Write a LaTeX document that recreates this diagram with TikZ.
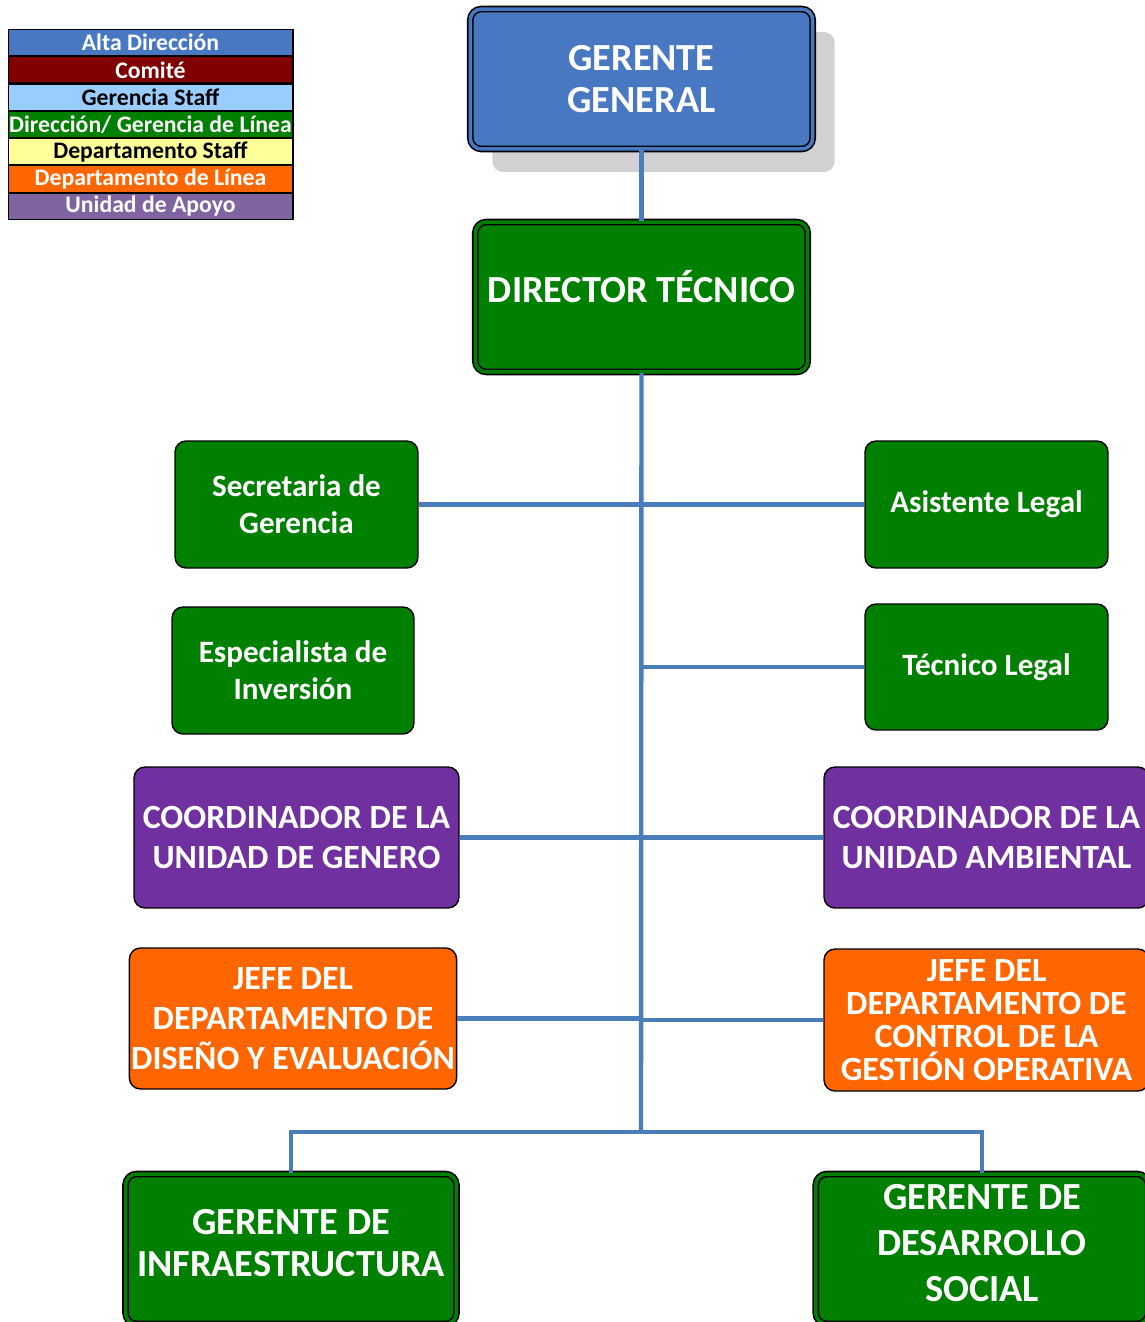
\documentclass[tikz,border=0pt]{standalone}
\usepackage{fontspec}
\setmainfont{Carlito}
\usetikzlibrary{positioning,shadows}

\definecolor{altaDir}{RGB}{71,120,193}
\definecolor{comite}{RGB}{128,0,0}
\definecolor{gerStaff}{RGB}{153,204,255}
\definecolor{verdeLinea}{RGB}{0,128,0}
\definecolor{depStaff}{RGB}{255,255,153}
\definecolor{naranja}{RGB}{255,102,0}
\definecolor{apoyo}{RGB}{128,100,162}
\definecolor{morado}{RGB}{112,48,160}
\definecolor{conector}{RGB}{74,126,187}

\begin{document}
\begin{tikzpicture}[
    x=0.02cm, y=-0.02cm,
    conn/.style    = {draw=conector, line width=2.5pt},
    caja/.style    = {draw=black, line width=0.8pt, rounded corners=0.22cm, align=center,
                      text=white, inner sep=1pt},
    doble/.style   = {caja, line width=0.9pt, double=#1, double distance=2pt, fill=#1},
    simple/.style  = {caja, fill=#1},
    grande/.style  = {font=\bfseries\fontsize{21.8}{24}\selectfont},
    medio/.style   = {font=\bfseries\fontsize{17.7}{21}\selectfont},
    mayus/.style   = {font=\bfseries\fontsize{19.3}{22.7}\selectfont},
    leyenda/.style = {draw=black, line width=0.6pt, fill=#1, text=white, minimum width=5.7cm,
                      minimum height=0.525cm, inner sep=0pt,
                      font=\bfseries\fontsize{13.5}{14}\selectfont},
  ]
  \useasboundingbox (0,0) rectangle (1144,1322);

  % Leyenda
  \node (ley1) at (150.5,42.5) [leyenda=altaDir] {Alta Dirección};
  \node (ley2) [leyenda=comite, below=0pt of ley1] {Comité};
  \node (ley3) [leyenda=gerStaff, text=black, below=0pt of ley2] {Gerencia Staff};
  \node (ley4) [leyenda=verdeLinea, below=0pt of ley3] {Dirección/ Gerencia de Línea};
  \node (ley5) [leyenda=depStaff, text=black, below=0pt of ley4] {Departamento Staff};
  \node (ley6) [leyenda=naranja, below=0pt of ley5] {Departamento de Línea};
  \node (ley7) [leyenda=apoyo, below=0pt of ley6] {Unidad de Apoyo};

  % Alta direccion
  \node (gg) at (641.5,79) [doble=altaDir, grande, minimum width=6.85cm, minimum height=2.8cm,
    drop shadow={shadow xshift=0.44cm, shadow yshift=-0.46cm, fill=black!18, opacity=1}]
    {GERENTE\\GENERAL};
  \node (dt) at (641.5,297) [doble=verdeLinea, grande, minimum width=6.65cm, minimum height=3cm,
    text depth=0.44cm] {DIRECTOR TÉCNICO};

  % Staff
  \node (sec) at (296.5,504.5) [simple=verdeLinea, medio, minimum width=4.86cm, minimum height=2.54cm]
    {Secretaria de\\Gerencia};
  \node (asis) at (986.5,504.5) [simple=verdeLinea, medio, minimum width=4.86cm, minimum height=2.54cm]
    {Asistente Legal};
  \node (esp) at (293,670.5) [simple=verdeLinea, medio, minimum width=4.84cm, minimum height=2.54cm]
    {Especialista de\\Inversión};
  \node (tec) at (986.5,667) [simple=verdeLinea, medio, minimum width=4.86cm, minimum height=2.52cm]
    {Técnico Legal};

  % Unidades de apoyo
  \node (cgen) at (296.5,837.5) [simple=morado, mayus, minimum width=6.5cm, minimum height=2.82cm]
    {COORDINADOR DE LA\\UNIDAD DE GENERO};
  \node (camb) at (986.5,837.5) [simple=morado, mayus, minimum width=6.5cm, minimum height=2.82cm]
    {COORDINADOR DE LA\\UNIDAD AMBIENTAL};

  % Departamentos de linea
  \node (jdis) at (293,1018.5) [simple=naranja, mayus, minimum width=6.48cm, minimum height=2.82cm]
    {JEFE DEL\\DEPARTAMENTO DE\\DISEÑO Y EVALUACIÓN};
  \node (jcon) at (986.5,1020) [simple=naranja, font=\bfseries\fontsize{19.3}{18.8}\selectfont,
    minimum width=6.5cm, minimum height=2.84cm]
    {JEFE DEL\\DEPARTAMENTO DE\\CONTROL DE LA\\GESTIÓN OPERATIVA};

  % Gerencias de linea
  \node (gi) at (291,1249) [doble=verdeLinea, grande, minimum width=6.62cm, minimum height=3cm,
    text depth=0.24cm] {GERENTE DE\\INFRAESTRUCTURA};
  \node (gds) at (982,1249) [doble=verdeLinea, grande, font=\bfseries\fontsize{21.8}{26}\selectfont,
    minimum width=6.65cm, minimum height=3cm, text depth=0.24cm]
    {GERENTE DE\\DESARROLLO\\SOCIAL};

  % Conectores
  \coordinate (bus) at (641,1132);
  \draw[conn] (gg) -- (dt);
  \draw[conn] (dt.south) -- (bus);
  \draw[conn] (sec) -- (asis);
  \draw[conn] (tec.west) -- (tec.west -| dt.south);
  \draw[conn] (cgen) -- (camb);
  \draw[conn] (jdis.east) -- (jdis.east -| dt.south);
  \draw[conn] (jcon.west) -- (jcon.west -| dt.south);
  \draw[conn] (gi.north) |- (bus) -| (gds.north);

\end{tikzpicture}
\end{document}
